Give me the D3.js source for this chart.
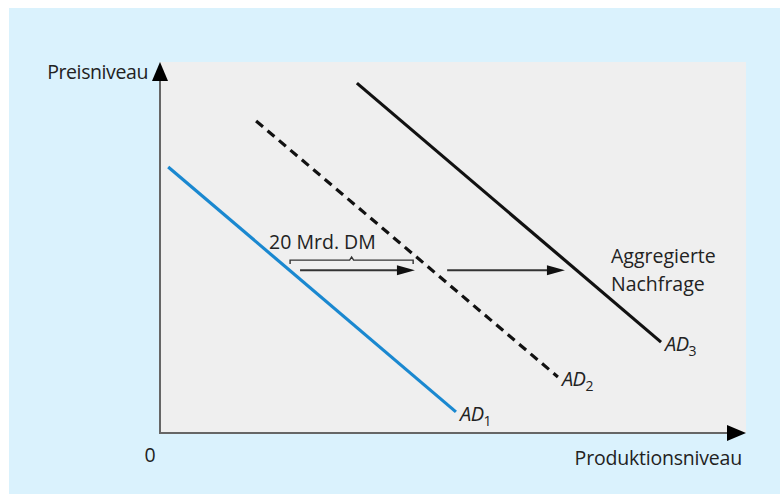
<!DOCTYPE html>
<html><head><meta charset="utf-8">
<script src="https://cdn.jsdelivr.net/npm/d3@7"></script>
<style>
html,body{margin:0;padding:0;background:#fff;}
svg{display:block;}
text{font-family:"Open Sans","Noto Sans",sans-serif;fill:#222;}
</style></head>
<body>
<svg id="c" width="780" height="494"></svg>
<script>
// Data (abstract units: x = Produktionsniveau, y = Preisniveau)
const curves = ["AD1", "AD2", "AD3"];
const curveStart = [[0.14, 7.17], [1.64, 8.41], [3.36, 9.43]];
const curveEnd   = [[5.05, 0.57], [6.79, 1.51], [8.55, 2.45]];
const shiftArrows = [[2.39, 4.35], [4.90, 6.91]]; // x from, x to
const shiftY = 4.39;
const braceRange = [2.22, 4.32];
const braceY = 4.66;
const braceLabel = "20 Mrd. DM";
const xLabel = "Produktionsniveau";
const yLabel = "Preisniveau";
const originLabel = "0";
const curveLabel = ["Aggregierte", "Nachfrage"];

const svg = d3.select("#c");
const W = 780, H = 494;
const L = 160, R = 746, T = 62, B = 433;
const x = d3.scaleLinear().domain([0, 10]).range([L, R]);
const y = d3.scaleLinear().domain([0, 10]).range([B, T]);
const FS = 19.5;

// panel
svg.append("rect").attr("x", 9).attr("y", 8).attr("width", W - 9).attr("height", H - 8).attr("fill", "#daf2fd");
svg.append("rect").attr("x", L).attr("y", T).attr("width", R - L).attr("height", B - T).attr("fill", "#efefef");

// axes
const axisCol = "#666";
svg.append("line").attr("x1", L).attr("y1", B).attr("x2", L).attr("y2", T + 14).attr("stroke", axisCol).attr("stroke-width", 2);
svg.append("line").attr("x1", L - 1).attr("y1", B).attr("x2", R - 14).attr("y2", B).attr("stroke", axisCol).attr("stroke-width", 2);
svg.append("path").attr("d", `M${L},${T} L${L - 8},${T + 19} L${L + 8},${T + 19} Z`).attr("fill", "#000");
svg.append("path").attr("d", `M${R},${B} L${R - 19},${B - 8} L${R - 19},${B + 8} Z`).attr("fill", "#000");

svg.append("text").attr("x", L - 12).attr("y", T + 17).attr("text-anchor", "end").attr("font-size", FS).attr("letter-spacing", "-0.4").text(yLabel);
svg.append("text").attr("x", L - 10).attr("y", B + 29).attr("text-anchor", "middle").attr("font-size", FS).text(originLabel);
svg.append("text").attr("x", R - 4).attr("y", B + 32).attr("text-anchor", "end").attr("font-size", FS).attr("letter-spacing", "-0.2").text(xLabel);

// curves
const styles = [
  {stroke: "#1a88d0", dash: null, w: 3.2},
  {stroke: "#111", dash: "9,6", w: 3.2},
  {stroke: "#111", dash: null, w: 3.2}
];
const line = d3.line().x(d => x(d[0])).y(d => y(d[1]));
curves.forEach((c, i) => {
  svg.append("path").attr("d", line([curveStart[i], curveEnd[i]]))
    .attr("fill", "none").attr("stroke", styles[i].stroke).attr("stroke-width", styles[i].w)
    .attr("stroke-dasharray", styles[i].dash);
  const t = svg.append("text").attr("x", x(curveEnd[i][0]) + 4).attr("y", y(curveEnd[i][1]) + 9)
    .attr("font-size", 20).attr("font-style", "italic").attr("letter-spacing", "-0.5");
  t.append("tspan").text(c.slice(0, 2));
  t.append("tspan").attr("font-size", 14).attr("dy", 5).attr("font-style", "normal").text(c.slice(2));
});

// curve label
curveLabel.forEach((s, i) => {
  svg.append("text").attr("x", 611).attr("y", 263 + i * 28).attr("font-size", FS).attr("letter-spacing", "0").text(s);
});

// shift arrows
shiftArrows.forEach(a => {
  const yy = y(shiftY);
  svg.append("line").attr("x1", x(a[0])).attr("y1", yy).attr("x2", x(a[1]) - 16).attr("y2", yy)
    .attr("stroke", "#333").attr("stroke-width", 2);
  svg.append("path").attr("d", `M${x(a[1])},${yy} L${x(a[1]) - 18},${yy - 5} L${x(a[1]) - 18},${yy + 5} Z`).attr("fill", "#111");
});

// brace
{
  const x0 = x(braceRange[0]), x1 = x(braceRange[1]), yy = y(braceY), xm = (x0 + x1) / 2;
  svg.append("path")
    .attr("d", `M${x0},${yy + 4} L${x0},${yy} L${xm - 2},${yy} L${xm},${yy - 3} L${xm + 2},${yy} L${x1},${yy} L${x1},${yy + 4}`)
    .attr("fill", "none").attr("stroke", "#333").attr("stroke-width", 1.4);
  svg.append("text").attr("x", x0 - 21).attr("y", yy - 11).attr("font-size", FS).attr("letter-spacing", "0").text(braceLabel);
}
</script>
</body></html>
